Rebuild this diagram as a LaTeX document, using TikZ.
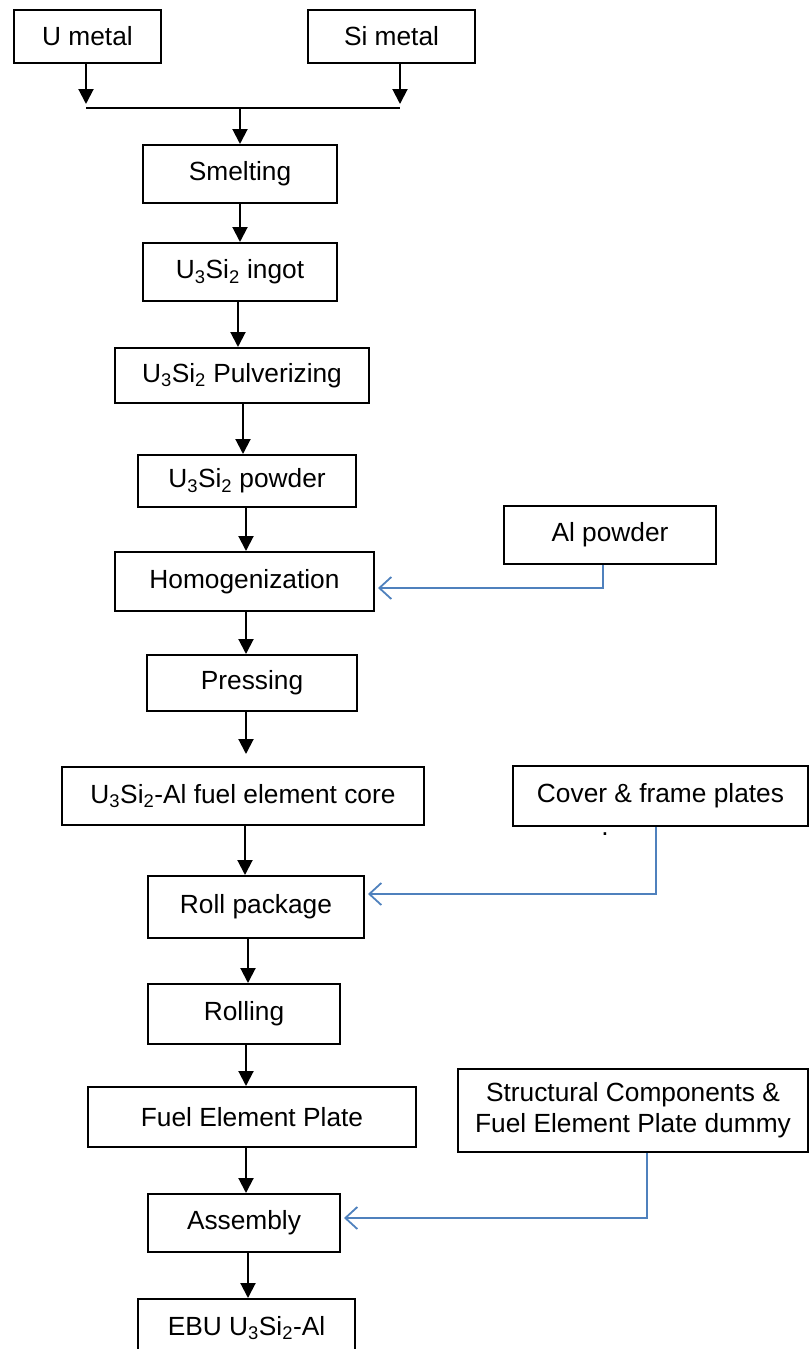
\documentclass[tikz,border=0pt]{standalone}
\usepackage{fontspec}
\setmainfont{Liberation Sans}
\usetikzlibrary{arrows.meta,calc}
\definecolor{linkblue}{RGB}{79,129,189}
\begin{document}
\begin{tikzpicture}[x=1pt,y=-1pt,
  box/.style={draw=black,line width=2pt,inner sep=0pt,align=center,
    font=\fontsize{26.3}{31}\selectfont},
  arr/.style={line width=2pt,-{Triangle[length=15pt,width=15pt]}},
  feed/.style={draw=linkblue,line width=1.8pt,-{Straight Barb[length=12pt,width=22pt,line width=1.8pt]},shorten >=3pt},
  ln/.style={line width=2pt}]
\useasboundingbox (0,0) rectangle (810,1349);
\clip (0,0) rectangle (810,1349);
\newcommand{\usi}{U\textsubscript{3}Si\textsubscript{2}}
% boxes
\node[box,minimum width=147pt,minimum height=53pt] (umetal) at (87.5,36.5) {U metal};
\node[box,minimum width=167pt,minimum height=53pt] (simetal) at (391.5,36.5) {Si metal};
\node[box,minimum width=194pt,minimum height=58pt] (smelt) at (240,174) {Smelting};
\node[box,minimum width=194pt,minimum height=58pt] (ingot) at (240,272) {\usi{} ingot};
\node[box,minimum width=254pt,minimum height=55pt] (pulv) at (242,375.5) {\usi{} Pulverizing};
\node[box,minimum width=218pt,minimum height=52pt] (powder) at (247,481) {\usi{} powder};
\node[box,minimum width=259pt,minimum height=59pt] (homog) at (244.5,581.5) {Homogenization};
\node[box,minimum width=212pt,minimum height=58pt] (alpow) at (610,535) {Al powder};
\node[box,minimum width=210pt,minimum height=56pt] (press) at (252,683) {Pressing};
\node[box,minimum width=362pt,minimum height=58pt] (core) at (243,796) {\usi-Al fuel element core};
\node[box,minimum width=295pt,minimum height=60pt] (cover) at (660.5,796) {Cover \& frame plates};
\node[font=\fontsize{26.3}{31}\selectfont] (dot) at (605,834) {.};
\node[box,minimum width=216pt,minimum height=62pt] (roll) at (256,907) {Roll package};
\node[box,minimum width=192pt,minimum height=60pt] (rolling) at (244,1014) {Rolling};
\node[box,minimum width=328pt,minimum height=60pt] (fep) at (252,1117) {Fuel Element Plate};
\node[box,minimum width=350pt,minimum height=83pt] (struct) at (633,1110.5) {Structural Components \&\\Fuel Element Plate dummy};
\node[box,minimum width=192pt,minimum height=58pt] (assem) at (244,1223) {Assembly};
\node[box,minimum width=217pt,minimum height=58pt] (ebu) at (246.5,1328) {EBU \usi-Al};
% junction
\coordinate (jl) at (86,108);
\coordinate (jr) at (400,108);
\coordinate (jm) at (240,108);
\draw[arr,shorten >=4pt] (umetal.south -| jl) -- (jl);
\draw[arr,shorten >=4pt] (simetal.south -| jr) -- (jr);
\draw[ln] (jl) -- (jr);
\draw[arr] (jm) -- (jm |- smelt.north);
% main chain
\draw[arr] (smelt.south) -- (smelt.south |- ingot.north);
\draw[arr] ([xshift=-2pt]ingot.south) -- ([xshift=-2pt]ingot.south |- pulv.north);
\draw[arr] ([xshift=1pt]pulv.south) -- ([xshift=1pt]pulv.south |- powder.north);
\draw[arr] ([xshift=-1pt]powder.south) -- ([xshift=-1pt]powder.south |- homog.north);
\draw[arr] ([xshift=1.5pt]homog.south) -- ([xshift=1.5pt]homog.south |- press.north);
\draw[arr,shorten >=12pt] ([xshift=-6pt]press.south) -- ([xshift=-6pt]press.south |- core.north);
\draw[arr] ([xshift=2pt]core.south) -- ([xshift=2pt]core.south |- roll.north);
\draw[arr] ([xshift=-8pt]roll.south) -- ([xshift=-8pt]roll.south |- rolling.north);
\draw[arr] ([xshift=2pt]rolling.south) -- ([xshift=2pt]rolling.south |- fep.north);
\draw[arr] ([xshift=-6pt]fep.south) -- ([xshift=-6pt]fep.south |- assem.north);
\draw[arr] ([xshift=4pt]assem.south) -- ([xshift=4pt]assem.south |- ebu.north);
% feeds
\draw[feed] ([xshift=-7pt]alpow.south) |- ([yshift=-6.5pt]homog.east);
\draw[feed] ([xshift=-4.5pt]cover.south) |- ([yshift=13pt]roll.east);
\draw[feed] ([xshift=14pt]struct.south) |- ([yshift=5pt]assem.east);
\end{tikzpicture}
\end{document}
